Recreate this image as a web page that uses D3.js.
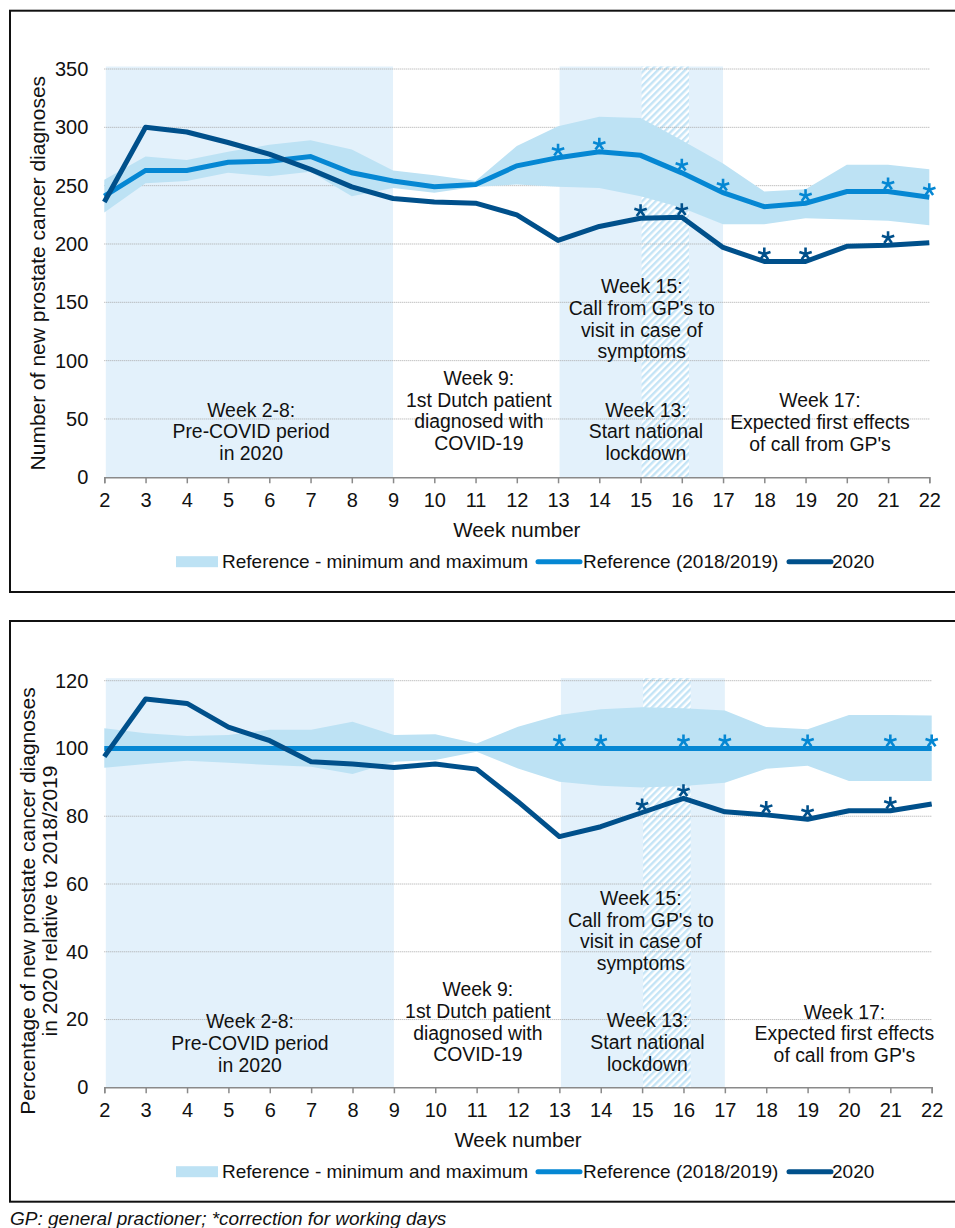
<!DOCTYPE html>
<html>
<head>
<meta charset="utf-8">
<script src="https://cdn.jsdelivr.net/npm/d3@7"></script>
<style>
  body { margin: 0; background: #fff; }
  text { font-family: "Liberation Sans", Arial, sans-serif; fill: #111; }
</style>
</head>
<body>
<script>
// Prostate cancer diagnoses per week, 2020 vs reference 2018/2019

var weeks = [2, 3, 4, 5, 6, 7, 8, 9, 10, 11, 12, 13, 14, 15, 16, 17, 18, 19, 20, 21, 22];

// top panel: absolute numbers
var countRef  = [241, 263, 263, 270, 271, 275, 261, 254, 249, 251, 267, 274, 279, 276, 261, 244, 232, 235, 245, 245, 240];
var countMin  = [227, 252, 254, 261, 258, 262, 241, 248, 244, 249, 251, 249, 248, 241, 231, 217, 217, 222, 221, 220, 216];
var countMax  = [255, 275, 272, 279, 285, 289, 281, 263, 259, 254, 284, 301, 309, 308, 289, 269, 245, 247, 268, 268, 264];
var count2020 = [236, 300, 296, 287, 277, 264, 249, 239, 236, 235, 225, 203, 215, 222, 223, 197, 185, 185, 198, 199, 201];
var countTicks = [0, 50, 100, 150, 200, 250, 300, 350];

// bottom panel: percentage relative to 2018/2019
var pctRef  = [100, 100, 100, 100, 100, 100, 100, 100, 100, 100, 100, 100, 100, 100, 100, 100, 100, 100, 100, 100, 100];
var pctMin  = [94.3, 95.4, 96.4, 95.8, 95.1, 94.6, 92.5, 96.1, 96.6, 99, 94.1, 90.2, 89, 88.5, 88.9, 89.9, 94, 94.9, 90.4, 90.4, 90.4];
var pctMax  = [106, 104.5, 103.7, 104, 105.5, 105.5, 107.9, 104, 104.2, 101.5, 106.4, 109.9, 111.6, 112.2, 111.9, 111.2, 106.3, 105.7, 109.9, 109.9, 109.7];
var pct2020 = [97.6, 114.6, 113.3, 106.3, 102.3, 96.1, 95.4, 94.4, 95.4, 93.9, 84.3, 74, 76.9, 81.1, 85.3, 81.3, 80.4, 79.1, 81.6, 81.6, 83.6];
var pctTicks = [0, 20, 40, 60, 80, 100, 120];

// weeks marked with * (correction for working days)
var refStarWeeks  = [13, 14, 16, 17, 19, 21, 22];
var starWeeks2020 = [15, 16, 18, 19, 21];

// shaded periods
var periods = [[2, 9], [13, 17]];
var hatchPeriod = [15, 16.15];

var legendLabels = ["Reference - minimum and maximum", "Reference (2018/2019)", "2020"];

var annotations = [
  ["Week 2-8:", "Pre-COVID period", "in 2020"],
  ["Week 9:", "1st Dutch patient", "diagnosed with", "COVID-19"],
  ["Week 15:", "Call from GP's to", "visit in case of", "symptoms"],
  ["Week 13:", "Start national", "lockdown"],
  ["Week 17:", "Expected first effects", "of call from GP's"]
];

var colBg = "#e3f1fb", colBand = "#bde2f4", colRef = "#0587d3", col2020 = "#00508b";

var svg = d3.select("body").append("svg")
    .attr("width", 955)
    .attr("height", 1228);

var defs = svg.append("defs");
var pat = defs.append("pattern")
    .attr("id", "hatch")
    .attr("patternUnits", "userSpaceOnUse")
    .attr("width", 4.8)
    .attr("height", 4.8)
    .attr("patternTransform", "rotate(45)");
pat.append("rect").attr("width", 4.8).attr("height", 4.8).attr("fill", "#fff");
pat.append("rect").attr("width", 2.4).attr("height", 4.8).attr("fill", "#c4e4f6");

function asteriskPath(r) {
  var p = "";
  for (var i = 0; i < 5; i += 1) {
    var a = -Math.PI / 2 + i * 2 * Math.PI / 5;
    p += "M0,0L" + (r * Math.cos(a)).toFixed(2) + "," + (r * Math.sin(a)).toFixed(2);
  }
  return p;
}

function drawChart(cfg) {
  var g = svg.append("g");

  // frame
  g.append("rect")
   .attr("x", 10).attr("y", cfg.frame[0])
   .attr("width", 960).attr("height", cfg.frame[1] - cfg.frame[0])
   .attr("fill", "none").attr("stroke", "#111").attr("stroke-width", 2);

  var x = d3.scaleLinear().domain([2, 22]).range([104.3, cfg.xRight]);
  var y = d3.scaleLinear().domain([0, cfg.yMax]).range([cfg.yBottom, cfg.yTop]);

  // shaded periods
  g.selectAll(".period").data(periods).enter().append("rect")
   .attr("x", function (d) { return x(d[0]) + 1.5; })
   .attr("y", cfg.yTop - 2.5)
   .attr("width", function (d) { return x(d[1]) - x(d[0]) - 1.5; })
   .attr("height", cfg.yBottom - cfg.yTop + 2.5)
   .attr("fill", colBg);
  g.append("rect")
   .attr("x", x(hatchPeriod[0]) + 1)
   .attr("y", cfg.yTop - 2.5)
   .attr("width", x(hatchPeriod[1]) - x(hatchPeriod[0]))
   .attr("height", cfg.yBottom - cfg.yTop + 2.5)
   .attr("fill", "url(#hatch)");

  // gridlines
  g.selectAll(".grid").data(cfg.ticks.slice(1)).enter().append("line")
   .attr("x1", x(2)).attr("x2", x(22))
   .attr("y1", function (d) { return y(d); })
   .attr("y2", function (d) { return y(d); })
   .attr("stroke", "#a8a8a8").attr("stroke-width", 1)
   .attr("stroke-dasharray", "1,1");

  // min/max band
  var area = d3.area()
    .x(function (d, i) { return x(weeks[i]); })
    .y0(function (d, i) { return y(cfg.min[i]); })
    .y1(function (d, i) { return y(cfg.max[i]); });
  g.append("path").datum(cfg.min).attr("d", area).attr("fill", colBand);

  var line = d3.line()
    .x(function (d, i) { return x(weeks[i]); })
    .y(function (d) { return y(d); });
  g.append("path").datum(cfg.ref).attr("d", line)
   .attr("fill", "none").attr("stroke", colRef).attr("stroke-width", 5);
  g.append("path").datum(cfg.y2020).attr("d", line)
   .attr("fill", "none").attr("stroke", col2020).attr("stroke-width", 5)
   .attr("stroke-linejoin", "round");

  // asterisks
  var ast = asteriskPath(6.5);
  g.selectAll(".astRef").data(refStarWeeks).enter().append("path")
   .attr("d", ast)
   .attr("transform", function (w) { return "translate(" + x(w) + "," + (y(cfg.ref[weeks.indexOf(w)]) - 7.5) + ")"; })
   .attr("stroke", colRef).attr("stroke-width", 2.6).attr("fill", "none");
  g.selectAll(".ast20").data(starWeeks2020).enter().append("path")
   .attr("d", ast)
   .attr("transform", function (w) { return "translate(" + x(w) + "," + (y(cfg.y2020[weeks.indexOf(w)]) - 7.5) + ")"; })
   .attr("stroke", col2020).attr("stroke-width", 2.6).attr("fill", "none");

  // annotations
  annotations.forEach(function (lines, k) {
    var pos = cfg.notePos[k];
    var t = g.append("text")
      .attr("text-anchor", "middle")
      .style("font-size", "19.4px");
    lines.forEach(function (s, j) {
      t.append("tspan")
       .attr("x", x(pos[0]))
       .attr("y", y(pos[1]) + j * 21.7)
       .attr("dy", "0.35em")
       .text(s);
    });
  });

  // x axis
  var xAxis = g.append("g")
    .attr("transform", "translate(0," + cfg.yBottom + ")")
    .call(d3.axisBottom(x).tickValues(weeks).tickSize(6).tickFormat(d3.format("d")));
  xAxis.select(".domain").attr("stroke", "#8a8a8a").attr("stroke-width", 1.5);
  xAxis.selectAll(".tick line").attr("stroke", "#8a8a8a").attr("stroke-width", 1.5);
  xAxis.selectAll(".tick text")
   .attr("y", 23).attr("dy", "0.35em")
   .style("font-size", "20px").style("font-family", "Liberation Sans, Arial, sans-serif")
   .attr("fill", "#111");

  // y axis labels
  var yAxis = g.append("g")
    .attr("transform", "translate(" + x(2) + ",0)")
    .call(d3.axisLeft(y).tickValues(cfg.ticks).tickSize(0).tickPadding(16));
  yAxis.select(".domain").remove();
  yAxis.selectAll(".tick text")
   .style("font-size", "20px").style("font-family", "Liberation Sans, Arial, sans-serif")
   .attr("fill", "#111");

  // axis titles
  g.append("text")
   .attr("x", x(12)).attr("y", cfg.yBottom + 53).attr("dy", "0.35em")
   .attr("text-anchor", "middle").style("font-size", "20.5px")
   .text("Week number");
  var yMid = (cfg.yTop + cfg.yBottom) / 2 + cfg.yTitleShift;
  cfg.yTitle.forEach(function (s, j) {
    g.append("text")
     .attr("transform", "translate(" + cfg.yTitleX[j] + "," + yMid + ") rotate(-90)")
     .attr("dy", "0.35em").attr("text-anchor", "middle")
     .style("font-size", "21px")
     .text(s);
  });

  // legend
  var ly = cfg.yBottom + 84.4;
  g.append("rect").attr("x", 176).attr("y", ly - 5.5).attr("width", 42).attr("height", 11).attr("fill", colBand);
  g.append("line").attr("x1", 538).attr("x2", 580).attr("y1", ly).attr("y2", ly)
   .attr("stroke", colRef).attr("stroke-width", 5).attr("stroke-linecap", "round");
  g.append("line").attr("x1", 789).attr("x2", 831).attr("y1", ly).attr("y2", ly)
   .attr("stroke", col2020).attr("stroke-width", 5).attr("stroke-linecap", "round");
  [222, 583, 832].forEach(function (lx, i) {
    g.append("text").attr("x", lx).attr("y", ly).attr("dy", "0.35em")
     .style("font-size", "19px").text(legendLabels[i]);
  });
}

drawChart({
  frame: [10.7, 592],
  xRight: 929.3, yTop: 69, yBottom: 477.3, yMax: 350,
  ticks: countTicks,
  ref: countRef, min: countMin, max: countMax, y2020: count2020,
  notePos: [[5.56, 57.7], [11.08, 84.9], [15.03, 163.5], [15.13, 57.7], [19.35, 65.7]],
  yTitle: ["Number  of new prostate cancer diagnoses"],
  yTitleX: [38], yTitleShift: 0
});

drawChart({
  frame: [621, 1201.7],
  xRight: 931.7, yTop: 680.7, yBottom: 1087.3, yMax: 120,
  ticks: pctTicks,
  ref: pctRef, min: pctMin, max: pctMax, y2020: pct2020,
  notePos: [[5.52, 19.4], [11.03, 28.9], [14.97, 55.8], [15.13, 19.7], [19.89, 22.3]],
  yTitle: ["Percentage of new prostate cancer diagnoses", "in 2020 relative to 2018/2019"],
  yTitleX: [28, 50], yTitleShift: 17
});

svg.append("text")
   .attr("x", 10).attr("y", 1225)
   .style("font-size", "19px").style("font-style", "italic")
   .text("GP: general practioner; *correction for working days");
</script>
</body>
</html>
